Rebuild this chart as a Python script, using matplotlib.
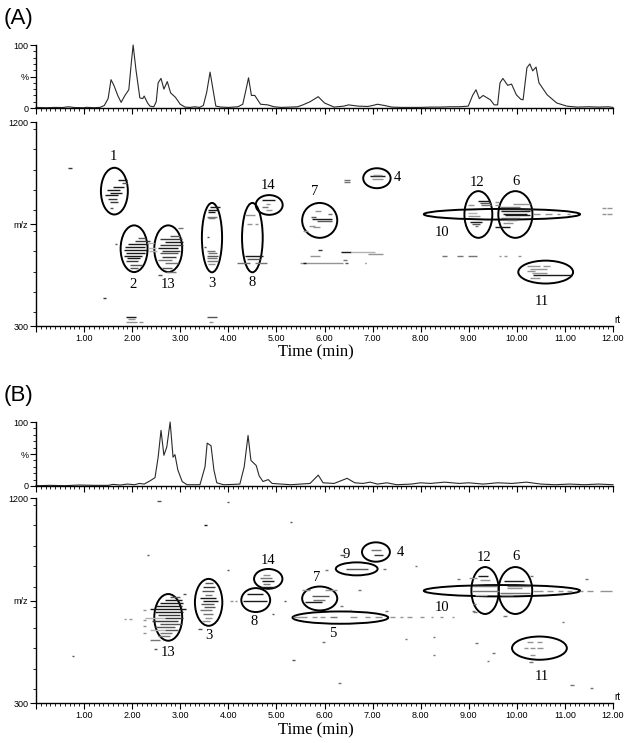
"""
Two LC-MS runs, (A) and (B): TIC trace on top, m/z vs retention time map
below with the numbered compound regions circled.

Run: python plot.py   (writes out.png)
"""
import matplotlib
matplotlib.use("Agg")
import matplotlib.pyplot as plt
from matplotlib.patches import Ellipse
from matplotlib.ticker import MultipleLocator, FixedLocator, FixedFormatter

# ---- TIC traces (retention time in min, relative intensity in %) ----------
tic_a_t = [0, 0.2, 0.4, 0.55, 0.67, 0.8, 1.0, 1.05, 1.2, 1.33, 1.42, 1.50, 1.56,
           1.62, 1.70, 1.77, 1.85, 1.93, 1.98, 2.02, 2.08, 2.16, 2.22, 2.25,
           2.32, 2.37, 2.45, 2.50, 2.54, 2.60, 2.66, 2.73, 2.80, 2.90, 3.00,
           3.10, 3.2, 3.3, 3.4, 3.48, 3.55, 3.62, 3.68, 3.74, 3.85, 4.0, 4.2,
           4.3, 4.37, 4.42, 4.48, 4.55, 4.67, 4.82, 4.95, 5.1, 5.3, 5.44, 5.55,
           5.70, 5.87, 6.0, 6.2, 6.4, 6.5, 6.7, 6.9, 7.0, 7.1, 7.25, 7.4, 7.6,
           8.0, 8.2, 8.4, 8.6, 8.8, 8.99, 9.08, 9.15, 9.22, 9.30, 9.45, 9.53,
           9.60, 9.65, 9.71, 9.81, 9.89, 9.99, 10.08, 10.13, 10.21, 10.27,
           10.33, 10.40, 10.46, 10.63, 10.83, 11.04, 11.25, 11.5, 11.7, 11.9, 12.0]
tic_a_pct = [1, 0.5, 1, 0.8, 2, 0.8, 0.5, 1.2, 0.5, 1, 4, 15, 45,
             36, 20, 9, 20, 29, 70, 100, 60, 16, 15, 19,
             8, 3, 2, 10, 40, 47, 30, 42, 24, 17, 6,
             1.5, 1, 2, 1, 4, 25, 57, 30, 3, 1.5, 1, 2,
             6, 30, 48, 20, 20, 6, 5, 2, 1, 1.5, 2, 5,
             10, 18, 8, 1.5, 3, 5, 3, 2.5, 4, 6, 4, 1.5, 1,
             1, 1.5, 1.5, 2, 2, 3, 20, 29, 15, 20, 13, 5,
             5, 40, 47, 36, 38, 21, 14, 13, 64, 70,
             59, 65, 40, 21, 8, 3, 1.5, 2, 1.5, 2, 1]

tic_b_t = [0, 0.3, 0.6, 0.9, 1.2, 1.5, 1.6, 1.75, 1.9, 2.05, 2.15, 2.25, 2.37,
           2.475, 2.54, 2.60, 2.66, 2.72, 2.79, 2.85, 2.89, 2.95, 3.04, 3.14,
           3.3, 3.41, 3.515, 3.56, 3.64, 3.70, 3.76, 3.9, 4.1, 4.24, 4.33, 4.41,
           4.47, 4.58, 4.64, 4.72, 4.83, 4.91, 5.1, 5.3, 5.5, 5.7, 5.87, 5.97,
           6.2, 6.47, 6.63, 6.8, 6.95, 7.1, 7.3, 7.5, 7.8, 8.0, 8.2, 8.5, 8.8,
           9.0, 9.3, 9.6, 9.9, 10.2, 10.5, 10.8, 11.1, 11.4, 11.7, 12.0]
tic_b_pct = [0.5, 1, 0.5, 1.5, 1, 1, 2.5, 1.5, 3, 2, 4, 3, 8,
             13, 45, 87, 48, 61, 100, 45, 49, 25, 7, 2,
             2, 2, 30, 67, 63, 25, 5, 2, 2.5, 3, 30, 79,
             40, 32, 16, 7, 10, 4, 3, 2, 3, 4, 17, 5,
             4, 12, 5, 4, 6, 3, 5, 2, 3, 5, 4, 6, 4,
             5, 3, 5, 4, 6, 3, 2, 3, 2, 3, 2]

# ---- ion traces: (rt start, rt end, m/z, relative intensity 0-1) ----------
ions_a = [
    # region 1
    (1.71, 1.90, 943, 1.0), (1.78, 1.89, 929, 0.8), (1.61, 1.84, 914, 1.0),
    (1.47, 1.75, 899, 1.0), (1.54, 1.78, 888, 1.0), (1.44, 1.71, 876, 1.0),
    (1.50, 1.68, 861, 0.9), (1.54, 1.71, 846, 0.9), (1.54, 1.60, 821, 0.8),
    (0.67, 0.74, 998, 0.9), (1.40, 1.46, 424, 0.9), (1.64, 1.69, 664, 0.8),
    # region 2
    (2.13, 2.27, 689, 0.8), (2.06, 2.37, 676, 0.9), (1.91, 2.33, 663, 1.0),
    (1.85, 2.27, 650, 1.0), (1.83, 2.31, 637, 1.0), (1.87, 2.27, 624, 1.0),
    (1.83, 2.20, 611, 1.0), (1.89, 2.16, 598, 1.0), (1.87, 2.12, 585, 0.9),
    (1.96, 2.20, 571, 0.8), (1.96, 2.12, 558, 0.8),
    (2.31, 2.45, 667, 0.5), (2.33, 2.50, 646, 0.5), (2.35, 2.52, 633, 0.5),
    # region 13
    (2.95, 3.06, 731, 0.7), (2.79, 3.00, 699, 0.8), (2.58, 3.04, 686, 0.9),
    (2.68, 3.06, 672, 1.0), (2.58, 3.06, 659, 0.9), (2.54, 2.95, 646, 1.0),
    (2.62, 3.00, 633, 0.9), (2.58, 2.95, 620, 0.8), (2.62, 2.91, 606, 0.9),
    (2.54, 2.83, 593, 0.7), (2.68, 2.95, 576, 0.7), (2.62, 2.83, 558, 0.8),
    (2.70, 2.91, 540, 0.7), (2.54, 2.62, 527, 0.8),
    # low mass
    (1.87, 2.08, 340, 1.0), (1.92, 2.05, 329, 0.6), (1.87, 2.10, 316, 0.6),
    (2.15, 2.22, 316, 0.6), (3.55, 3.76, 340, 0.8), (3.60, 3.68, 316, 0.6),
    # region 3
    (3.62, 3.83, 826, 1.0), (3.58, 3.79, 811, 1.0), (3.58, 3.72, 804, 1.0),
    (3.55, 3.76, 780, 0.7), (3.58, 3.72, 775, 0.7), (3.55, 3.60, 694, 0.8),
    (3.49, 3.54, 649, 0.8), (3.55, 3.72, 630, 0.7), (3.58, 3.77, 620, 0.7),
    (3.55, 3.79, 608, 0.8), (3.56, 3.76, 598, 0.7), (3.55, 3.79, 588, 0.7),
    (3.58, 3.72, 574, 0.6),
    # region 8
    (4.35, 4.55, 790, 0.6), (4.38, 4.49, 751, 0.6), (4.55, 4.62, 751, 0.6),
    (4.35, 4.73, 607, 1.0), (4.38, 4.66, 597, 0.8), (4.19, 4.45, 576, 0.7),
    (4.55, 4.80, 578, 0.7),
    # region 14
    (4.71, 4.97, 855, 1.0), (4.78, 4.87, 840, 0.6), (4.69, 4.83, 826, 0.7),
    (4.78, 4.90, 811, 0.6),
    # region 7
    (5.80, 5.92, 807, 0.6), (6.08, 6.15, 796, 0.7), (5.72, 5.82, 782, 0.8),
    (5.73, 6.15, 773, 1.0), (5.84, 6.15, 765, 0.8), (5.68, 5.80, 743, 0.6),
    (5.76, 5.91, 736, 0.6), (5.56, 5.66, 718, 0.6),
    (6.41, 6.52, 943, 0.7), (6.41, 6.52, 934, 0.7),
    # region 4
    (6.95, 7.26, 961, 1.0), (6.99, 7.21, 950, 0.6), (7.01, 7.19, 968, 0.6),
    # band around m/z 600
    (5.87, 5.94, 634, 0.9), (6.34, 6.55, 628, 1.0), (6.55, 7.05, 628, 0.5),
    (6.91, 7.22, 618, 0.6), (5.70, 5.91, 607, 0.6), (6.39, 6.46, 593, 0.7),
    (5.49, 6.39, 576, 0.6), (5.55, 5.62, 576, 1.0), (6.43, 6.48, 576, 0.8),
    (6.84, 6.87, 576, 0.8),
    (8.44, 8.54, 608, 0.7), (8.75, 8.89, 608, 0.7), (8.99, 9.17, 608, 0.7),
    (9.62, 9.68, 608, 0.6), (9.73, 9.79, 608, 0.6), (10.03, 10.08, 608, 0.6),
    (11.77, 11.85, 820, 0.6), (11.88, 11.97, 820, 0.6),
    (11.77, 11.85, 792, 0.6), (11.88, 11.97, 792, 0.6),
    # region 12
    (9.20, 9.44, 851, 1.0), (9.23, 9.47, 843, 0.8), (8.99, 9.10, 836, 0.6),
    (9.26, 9.47, 836, 0.7), (9.55, 9.62, 847, 0.6), (9.55, 9.62, 836, 0.6),
    (8.99, 9.17, 800, 0.5), (8.99, 9.23, 785, 0.6), (9.03, 9.27, 760, 1.0),
    (9.06, 9.23, 752, 0.8), (9.13, 9.20, 740, 0.7), (9.55, 9.86, 735, 1.0),
    # region 6 / 10
    (9.92, 10.27, 839, 0.6), (9.65, 10.07, 826, 0.7), (9.65, 10.34, 817, 1.0),
    (9.68, 10.27, 806, 1.0), (9.72, 10.21, 796, 1.0), (9.75, 10.27, 788, 1.0),
    (9.68, 10.07, 777, 0.8), (9.79, 10.00, 767, 0.7), (9.72, 9.93, 755, 0.6),
    (10.34, 10.48, 793, 0.6), (10.59, 10.73, 793, 0.6),
    (10.83, 10.90, 793, 0.6), (11.04, 11.11, 793, 0.6),
    # region 11
    (10.21, 10.48, 564, 0.6), (10.55, 10.68, 564, 0.6), (10.27, 10.62, 552, 0.6),
    (10.21, 10.38, 542, 0.6), (10.31, 10.62, 532, 0.6), (10.34, 11.14, 523, 1.0),
    (10.27, 10.48, 513, 0.6),
]

ions_b = [
    # scattered
    (2.52, 2.59, 1187, 0.8), (3.97, 4.02, 1184, 0.8), (3.49, 3.55, 1083, 1.0),
    (5.28, 5.32, 1093, 0.8), (2.30, 2.35, 951, 0.8), (3.97, 4.02, 885, 0.8),
    (3.06, 3.11, 780, 0.8), (0.74, 0.79, 505, 0.8), (1.82, 1.87, 669, 0.6),
    (1.93, 1.99, 669, 0.6), (4.03, 4.09, 750, 0.6), (4.13, 4.19, 750, 0.6),
    (5.16, 5.20, 746, 0.8), (4.90, 4.96, 692, 0.8), (5.33, 5.38, 490, 0.8),
    (3.36, 3.45, 626, 0.8), (2.46, 2.51, 538, 0.8),
    # region 13
    (2.79, 3.00, 767, 0.8), (2.68, 3.04, 753, 1.0), (2.58, 3.06, 740, 1.0),
    (2.48, 3.04, 727, 1.0), (2.37, 3.12, 714, 1.0), (2.48, 3.06, 701, 1.0),
    (2.54, 3.00, 688, 0.9), (2.27, 2.68, 674, 0.5), (2.68, 3.06, 674, 0.9),
    (2.41, 2.95, 661, 0.9), (2.58, 3.04, 648, 0.8), (2.48, 2.89, 635, 0.8),
    (2.37, 2.68, 622, 0.5), (2.68, 2.95, 622, 0.8), (2.58, 2.83, 609, 0.7),
    (2.54, 2.79, 596, 0.7), (2.37, 2.58, 578, 0.7),
    (2.23, 2.29, 710, 0.6), (2.23, 2.29, 666, 0.6), (2.23, 2.29, 636, 0.6),
    (2.23, 2.29, 607, 0.6),
    # region 3
    (3.52, 3.68, 828, 0.8), (3.47, 3.72, 811, 0.9), (3.45, 3.70, 793, 0.8),
    (3.52, 3.66, 775, 0.7), (3.41, 3.74, 762, 1.0), (3.47, 3.79, 749, 1.0),
    (3.43, 3.70, 736, 0.8), (3.49, 3.72, 723, 0.8), (3.41, 3.66, 710, 0.7),
    (3.47, 3.68, 692, 0.7), (3.52, 3.66, 675, 0.6), (3.45, 3.62, 661, 0.6),
    # regions 8 and 14
    (4.38, 4.73, 779, 1.0), (4.31, 4.80, 750, 1.0),
    (4.72, 4.87, 863, 0.6), (4.66, 4.91, 850, 0.7), (4.70, 4.95, 837, 1.0),
    (4.72, 4.87, 824, 0.7), (4.68, 5.00, 811, 1.0),
    # region 7 and around 9
    (6.01, 6.26, 797, 0.6), (5.73, 6.09, 768, 0.8), (5.77, 6.01, 753, 0.7),
    (5.59, 5.94, 742, 1.0), (5.53, 5.70, 797, 0.6),
    (6.01, 6.08, 882, 0.7), (6.32, 6.43, 951, 0.8), (7.22, 7.28, 888, 0.7),
    (7.88, 7.93, 900, 0.7), (6.70, 6.76, 797, 0.7), (6.32, 6.39, 727, 0.7),
    (6.53, 6.56, 710, 0.7), (7.26, 7.33, 705, 0.7),
    # region 9 / 4
    (6.45, 6.90, 889, 0.8), (6.96, 7.18, 972, 0.7), (7.02, 7.22, 950, 0.9),
    # region 5 trace
    (5.35, 5.63, 677, 0.6), (5.73, 5.84, 677, 0.6), (5.91, 6.01, 677, 0.6),
    (6.11, 6.25, 677, 0.7), (6.53, 6.67, 677, 0.6), (6.84, 6.95, 677, 0.6),
    (7.05, 7.19, 677, 0.6), (7.36, 7.47, 677, 0.6), (7.57, 7.64, 677, 0.6),
    (7.71, 7.81, 677, 0.6), (7.99, 8.06, 677, 0.6), (8.22, 8.26, 677, 0.6),
    (8.40, 8.47, 677, 0.6), (8.65, 8.69, 677, 0.6),
    (5.94, 6.01, 570, 0.7), (7.67, 7.72, 581, 0.7), (8.25, 8.30, 592, 0.7),
    (8.26, 8.30, 512, 0.7), (9.13, 9.19, 563, 0.7), (9.48, 9.55, 519, 0.7),
    (9.37, 9.43, 483, 0.7), (6.29, 6.34, 388, 0.7), (11.11, 11.18, 380, 0.7),
    (11.52, 11.58, 366, 0.7), (10.93, 10.98, 654, 0.7), (11.42, 11.47, 846, 0.7),
    (8.75, 8.82, 844, 0.7), (9.09, 9.17, 698, 0.7), (9.72, 9.79, 680, 0.7),
    # region 10 trace
    (10.34, 10.55, 792, 0.6), (10.62, 10.76, 792, 0.6), (10.86, 10.97, 792, 0.6),
    (11.04, 11.14, 792, 0.6), (11.31, 11.38, 792, 0.6), (11.45, 11.59, 792, 0.6),
    (11.73, 11.98, 792, 0.6),
    # region 12
    (9.20, 9.41, 859, 1.0), (9.23, 9.44, 841, 0.6), (9.01, 9.17, 850, 0.6),
    (9.09, 9.58, 812, 0.7), (9.06, 9.62, 790, 0.7), (9.13, 9.37, 775, 0.5),
    (9.09, 9.16, 736, 0.7), (9.06, 9.13, 702, 0.7),
    # region 6
    (9.73, 10.14, 834, 1.0), (9.79, 10.28, 815, 0.7), (9.79, 10.10, 805, 0.6),
    (9.65, 10.28, 783, 0.7), (9.68, 9.93, 775, 0.6), (10.27, 10.34, 856, 0.7),
    # region 11
    (10.21, 10.34, 570, 0.6), (10.41, 10.52, 570, 0.6), (10.15, 10.24, 541, 0.6),
    (10.28, 10.38, 541, 0.6), (10.41, 10.55, 541, 0.6), (10.28, 10.38, 512, 0.6),
    (10.26, 10.33, 480, 0.7),
]

# ---- circled regions: (label, rt centre, m/z centre, rt width, m/z height)
regions_a = [
    ("1", 1.63, 895, 0.56, 206), ("2", 2.04, 641, 0.56, 206),
    ("13", 2.75, 641, 0.58, 206), ("3", 3.66, 690, 0.42, 306),
    ("8", 4.50, 690, 0.43, 306), ("14", 4.85, 834, 0.56, 87),
    ("7", 5.90, 766, 0.73, 154), ("4", 7.09, 952, 0.57, 88),
    ("12", 9.20, 792, 0.58, 206), ("6", 9.97, 792, 0.71, 206),
    ("10", 9.69, 793, 3.25, 47), ("11", 10.60, 538, 1.14, 101),
]
# where each number is written (rt, m/z)
labels_a = {"1": (1.61, 1046), "2": (2.02, 483), "13": (2.75, 483),
            "3": (3.65, 487), "8": (4.50, 493), "14": (4.83, 920),
            "7": (5.80, 895), "4": (7.52, 956), "12": (9.17, 934),
            "6": (9.98, 937), "10": (8.44, 714), "11": (10.53, 409)}

regions_b = [
    ("13", 2.75, 676, 0.58, 205), ("3", 3.59, 742, 0.57, 206),
    ("8", 4.57, 752, 0.60, 105), ("14", 4.83, 845, 0.59, 87),
    ("7", 5.90, 759, 0.73, 105), ("5", 6.33, 675, 1.99, 54),
    ("9", 6.67, 889, 0.87, 57), ("4", 7.07, 963, 0.58, 85),
    ("12", 9.34, 794, 0.57, 206), ("6", 9.97, 794, 0.70, 206),
    ("10", 9.69, 793, 3.25, 50), ("11", 10.47, 541, 1.14, 102),
]
labels_b = {"13": (2.74, 522), "3": (3.60, 595), "8": (4.54, 658),
            "14": (4.83, 925), "7": (5.84, 849), "5": (6.18, 607),
            "9": (6.46, 951), "4": (7.57, 961), "12": (9.32, 939),
            "6": (9.98, 944), "10": (8.44, 721), "11": (10.53, 417)}

TICK_FONT = "Liberation Sans"
LABEL_FONT = "Liberation Serif"
LEFT, WIDTH = 36 / 624, 577 / 624


def style_axis(ax):
    """Old MassLynx look: left + bottom spines, outward ticks, small labels."""
    for side in ("top", "right"):
        ax.spines[side].set_visible(False)
    ax.spines["left"].set_linewidth(1.0)
    ax.spines["bottom"].set_linewidth(1.0)
    ax.set_xlim(0, 12.0)
    ax.xaxis.set_major_locator(MultipleLocator(1.0))
    ax.xaxis.set_minor_locator(MultipleLocator(0.1))
    ax.tick_params(axis="both", which="major", direction="out", length=4,
                   width=0.8, labelsize=6.5, pad=1.5)
    ax.tick_params(axis="both", which="minor", direction="out", length=2,
                   width=0.6)
    for lab in ax.get_xticklabels() + ax.get_yticklabels():
        lab.set_fontfamily(TICK_FONT)


def draw_tic(ax, t, pct):
    ax.plot(t, pct, color="#2a2a2a", lw=0.8, clip_on=False)
    ax.set_ylim(0, 100)
    ax.yaxis.set_major_locator(FixedLocator([0, 50, 100]))
    ax.yaxis.set_major_formatter(FixedFormatter(["0", "%", "100"]))
    ax.yaxis.set_minor_locator(MultipleLocator(10))
    style_axis(ax)
    ax.set_xticklabels([])


def draw_map(ax, ions, regions, labels):
    for t0, t1, mz, inten in ions:
        grey = min(0.75, 0.1 + (1.0 - inten) * 1.2)
        ax.hlines(mz, t0, t1, colors=str(grey), lw=1.0)
    for name, tc, mzc, w, h in regions:
        ax.add_patch(Ellipse((tc, mzc), w, h, fill=False, ec="black", lw=1.4))
        lx, ly = labels[name]
        ax.text(lx, ly, name, ha="center", va="center", fontsize=10.5,
                family=LABEL_FONT)
    ax.set_ylim(300, 1200)
    ax.yaxis.set_major_locator(FixedLocator([300, 750, 1200]))
    ax.yaxis.set_major_formatter(FixedFormatter(["300", "m/z", "1200"]))
    ax.yaxis.set_minor_locator(MultipleLocator(90))
    style_axis(ax)
    ax.xaxis.set_major_formatter(lambda v, pos: f"{v:.2f}" if v > 0 else "")
    for lab in ax.get_xticklabels():
        lab.set_fontfamily(TICK_FONT)
    ax.text(1.002, 0.005, "rt", transform=ax.transAxes, fontsize=7,
            family=TICK_FONT, ha="left", va="bottom")


def main():
    fig = plt.figure(figsize=(6.24, 7.43), dpi=100)

    tic_a = fig.add_axes([LEFT, 0.8546, WIDTH, 0.0848])
    map_a = fig.add_axes([LEFT, 0.5612, WIDTH, 0.2746])
    tic_b = fig.add_axes([LEFT, 0.3459, WIDTH, 0.0861])
    map_b = fig.add_axes([LEFT, 0.0538, WIDTH, 0.2759])

    draw_tic(tic_a, tic_a_t, tic_a_pct)
    draw_map(map_a, ions_a, regions_a, labels_a)
    draw_tic(tic_b, tic_b_t, tic_b_pct)
    draw_map(map_b, ions_b, regions_b, labels_b)

    fig.text(0.006, 0.975, "(A)", fontsize=16, family=TICK_FONT, va="center")
    fig.text(0.006, 0.468, "(B)", fontsize=16, family=TICK_FONT, va="center")
    fig.text(0.506, 0.526, "Time (min)", fontsize=12, family=LABEL_FONT,
             ha="center", va="center")
    fig.text(0.506, 0.0175, "Time (min)", fontsize=12, family=LABEL_FONT,
             ha="center", va="center")

    fig.savefig("out.png", dpi=100)
    plt.close(fig)


if __name__ == "__main__":
    main()
